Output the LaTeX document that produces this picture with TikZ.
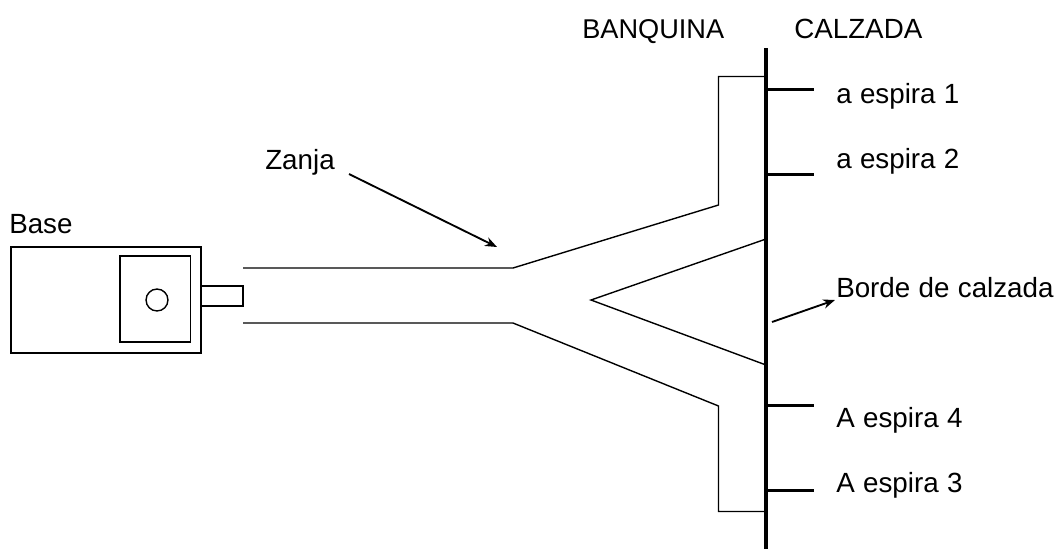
\documentclass[tikz,border=0pt]{standalone}
\usepackage{fontspec}
\setmainfont[Kerning=Off,WordSpace=1.08]{Liberation Sans}
\usetikzlibrary{arrows.meta}
\tikzset{
  lbl/.style={inner sep=0pt,anchor=base west,font=\fontsize{20.9}{24}\selectfont},
  caps/.style={lbl,font=\fontsize{20.45}{24}\selectfont},
  thin line/.style={line width=1.05pt,black},
  road/.style={line width=3.2pt,black},
  spur/.style={line width=2.3pt,black},
  arrow/.style={line width=1.4pt,black,-{Stealth[length=9pt,width=7pt]}}
}
\begin{document}
\begin{tikzpicture}[x=0.0264583cm,y=-0.0264583cm]
\useasboundingbox (0,0) rectangle (1056,548);
\fill[white] (0,0) rectangle (1056,548);
% labels
\node[caps] (banq) at (582,38.5) {BANQUINA};
\node[lbl] (calz) at (794,38.5) {CALZADA};
\node[lbl] (e1) at (836,103) {a espira 1};
\node[lbl] (e2) at (836,168) {a espira 2};
\node[lbl] (e4) at (836,427.5) {A espira 4};
\node[lbl] (e3) at (836,492.5) {A espira 3};
\node[lbl] (borde) at (836,297) {Borde de calzada};
\node[lbl] (zanja) at (265,169) {Zanja};
\node[lbl] (base) at (9,233) {Base};
% road
\coordinate (rt) at (766,48); \coordinate (rb) at (766,549);
\draw[road] (rt) -- (rb);
\foreach \yy/\nn in {89.5/a,174.5/b,405.5/c,490.5/d}{
  \coordinate (s\nn a) at (766,\yy); \coordinate (s\nn b) at (814,\yy);
  \draw[spur] (s\nn a) -- (s\nn b);
}
% trench
\coordinate (u1) at (243,268); \coordinate (u2) at (513,268); \coordinate (u3) at (718.5,205);
\coordinate (u4) at (718.5,76.5); \coordinate (u5) at (766,76.5);
\draw[thin line] (u1) -- (u2) -- (u3) -- (u4) -- (u5);
\coordinate (l1) at (243,323); \coordinate (l2) at (513,323); \coordinate (l3) at (718.5,406);
\coordinate (l4) at (718.5,511.5); \coordinate (l5) at (766,511.5);
\draw[thin line] (l1) -- (l2) -- (l3) -- (l4) -- (l5);
\coordinate (v1) at (766,239); \coordinate (v2) at (591,300); \coordinate (v3) at (766,365);
\draw[thin line] (v1) -- (v2) -- (v3);
% base
\draw[thin line] (11,247) rectangle (201,353);
\draw[thin line] (120,256) rectangle (190.5,342);
\draw[thin line] (201,286) rectangle (243,306);
\node[draw,thin line,circle,minimum size=16.5pt,inner sep=0pt] (c) at (157,300) {};
% arrows
\coordinate (za) at (349,174); \coordinate (zb) at (497,247);
\draw[arrow] (za) -- (zb);
\coordinate (ba) at (772,322); \coordinate (bb) at (835,300);
\draw[arrow] (ba) -- (bb);
\end{tikzpicture}
\end{document}
